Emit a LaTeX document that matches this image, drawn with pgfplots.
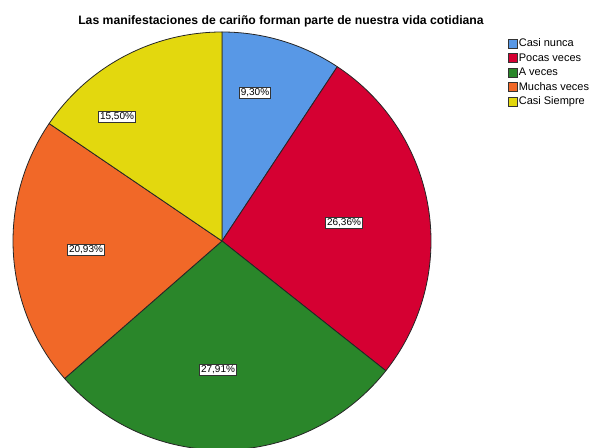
\documentclass[border=0pt]{standalone}
\usepackage{fontspec}
\setmainfont{Liberation Sans}
\usepackage{pgfplots}
\pgfplotsset{compat=1.18}

\definecolor{cnunca}{RGB}{88,152,230}
\definecolor{cpocas}{RGB}{213,0,50}
\definecolor{caveces}{RGB}{42,134,42}
\definecolor{cmuchas}{RGB}{241,104,40}
\definecolor{csiempre}{RGB}{227,216,14}

% picture in pixel units: 1 unit = 1pt, y up
\def\cx{222}\def\cy{206}\def\R{209}

\begin{document}
\begin{tikzpicture}
\useasboundingbox (0,0) rectangle (599pt,447pt);
\begin{axis}[width=599pt,height=447pt,scale only axis,at={(0,0)},anchor=south west,
  xmin=0,xmax=599,ymin=0,ymax=447,hide axis,
  legend cell align=left,
  legend style={at={(axis cs:505,413)},anchor=north west,draw=none,fill=none,
    font=\fontsize{11}{12}\selectfont,
    nodes={inner sep=1pt,text height=9.5pt,text depth=3pt}},
  legend image code/.code={\draw[#1,draw=black!80,line width=0.6pt] (0pt,-4.5pt) rectangle (9pt,4.5pt);}]
% slices: value (percent) / colour / label x / label y (pixels, y down)
\def\cum{90}
\foreach \v/\c/\lx/\ly in {9.30/cnunca/255/93, 26.36/cpocas/344/223,
    27.91/caveces/218/370, 20.93/cmuchas/86/250, 15.50/csiempre/117/117}{
  \pgfmathsetmacro\e{\cum-3.6*\v}
  \edef\temp{\noexpand\filldraw[fill=\c,draw=black!85,line width=0.8pt,line join=round]
    (axis cs:\cx,\cy) -- ++(\cum:\R pt) arc[start angle=\cum,end angle=\e,radius=\R pt] -- cycle;}
  \temp
  \global\let\cum\e
}
\foreach \v/\lx/\ly in {9.30/255/93, 26.36/344/223,
    27.91/218/370, 20.93/86/250, 15.50/117/117}{
  \pgfmathsetmacro\yy{447-\ly}
  \edef\temp{\noexpand\node[draw=black!80,fill=white,line width=0.6pt,inner sep=1.5pt,
    font=\noexpand\fontsize{10}{11}\noexpand\selectfont] at (axis cs:\lx,\yy)
    {\noexpand\pgfmathprintnumber[fixed,fixed zerofill,precision=2,use comma,assume math mode=true]{\v}\noexpand\%};}
  \temp
}
\node[font=\fontsize{12.2}{14}\selectfont\bfseries] at (axis cs:281,426) {Las manifestaciones de cariño forman parte de nuestra vida cotidiana};
\addlegendimage{fill=cnunca}\addlegendentry{Casi nunca}
\addlegendimage{fill=cpocas}\addlegendentry{Pocas veces}
\addlegendimage{fill=caveces}\addlegendentry{A veces}
\addlegendimage{fill=cmuchas}\addlegendentry{Muchas veces}
\addlegendimage{fill=csiempre}\addlegendentry{Casi Siempre}
\end{axis}
\end{tikzpicture}
\end{document}
